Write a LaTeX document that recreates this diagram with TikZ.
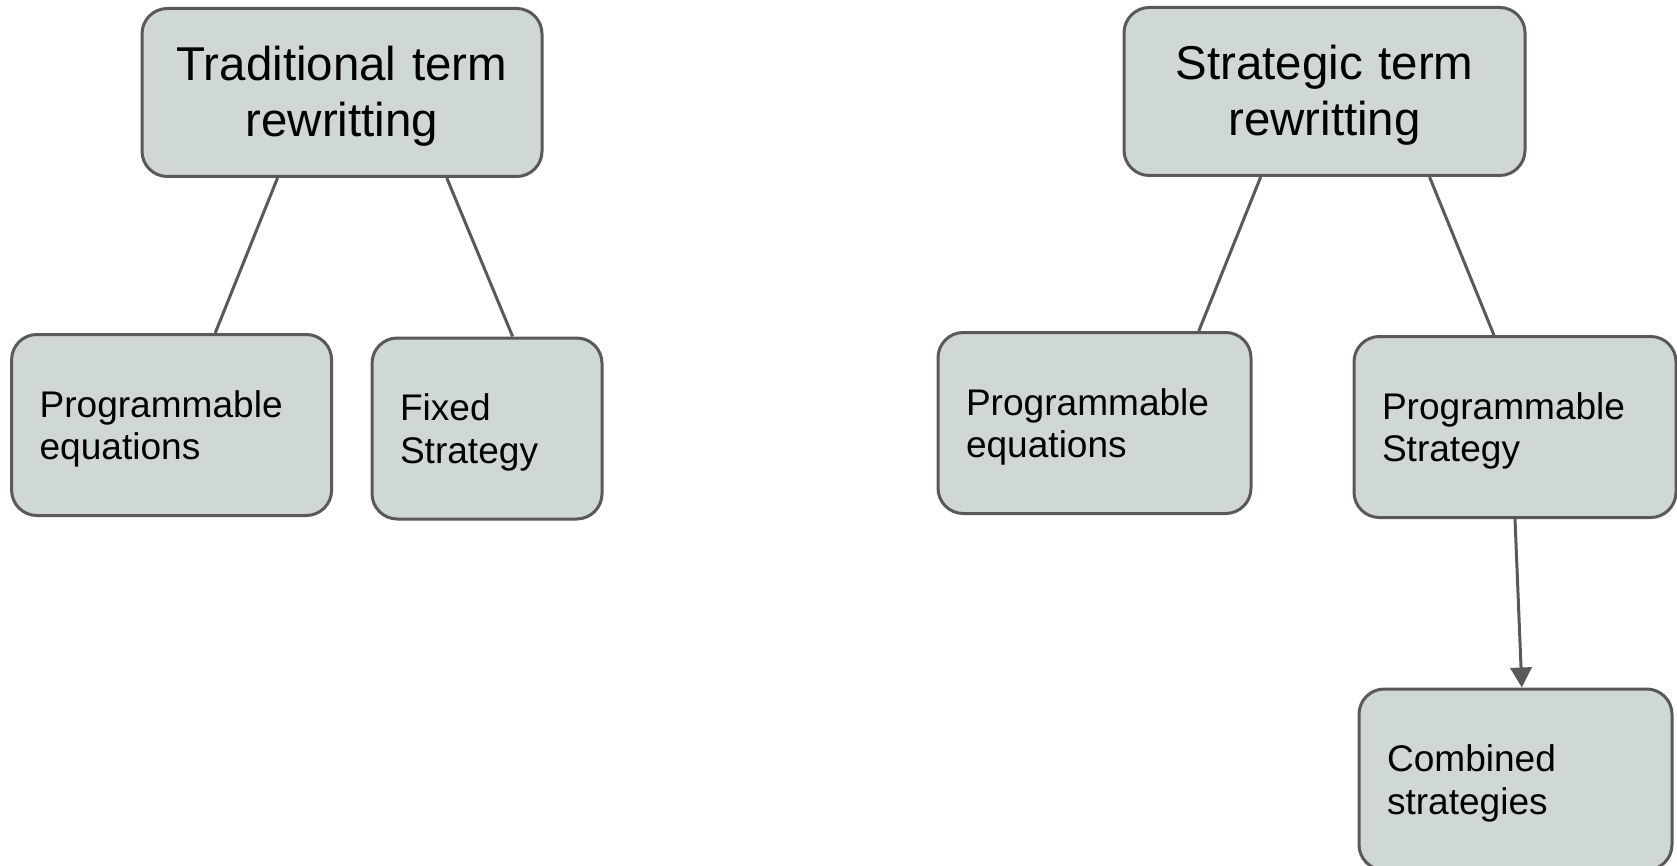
\documentclass[tikz,border=0pt]{standalone}
\usepackage{fontspec}
\setmainfont{Liberation Sans}
\usetikzlibrary{arrows.meta,calc}
\definecolor{boxFill}{HTML}{D0D7D7}
\definecolor{edgeGray}{HTML}{595959}

\begin{document}
\begin{tikzpicture}[x=0.75pt,y=-0.75pt,>={Triangle[length=15pt,width=16pt]},
  topbox/.style={draw=edgeGray,fill=boxFill,line width=2.25pt,rounded corners=19pt,align=center,
    inner xsep=0pt,inner ysep=0pt,font=\fontsize{35.6pt}{41.5pt}\selectfont,minimum height=126pt,
    execute at begin node={\rule{0pt}{31.6pt}}},
  leafbox/.style={draw=edgeGray,fill=boxFill,line width=2.25pt,rounded corners=19pt,align=left,
    inner xsep=21pt,inner ysep=0pt,font=\fontsize{27.8pt}{32pt}\selectfont,minimum height=135.75pt,
    execute at begin node={\rule{0pt}{25.8pt}}},
  link/.style={draw=edgeGray,line width=2.25pt}]
  \useasboundingbox (0,0) rectangle (1677,866);
  % left tree
  \node[topbox,text width=300pt] (trad) at (342,92.5) {Traditional term\\rewritting};
  \node[leafbox,text width=198pt] (eqA) at (171.6,425) {Programmable\\equations};
  \node[leafbox,text width=130.5pt] (fixed) at (487,428.5) {Fixed\\Strategy};
  % right tree
  \node[topbox,text width=300.75pt] (strat) at (1324.5,91.5) {Strategic term\\rewritting};
  \node[leafbox,text width=192.75pt] (eqB) at (1094.5,423) {Programmable\\equations};
  \node[leafbox,text width=199.5pt] (prog) at (1515,427) {Programmable\\Strategy};
  \node[leafbox,text width=192.75pt] (comb) at (1515.5,779.5) {Combined\\strategies};
  \draw[link] ($(trad.south west)!0.34!(trad.south east)$) -- ($(eqA.north west)!0.635!(eqA.north east)$);
  \draw[link] ($(trad.south west)!0.76!(trad.south east)$) -- ($(fixed.north west)!0.61!(fixed.north east)$);
  \draw[link] ($(strat.south west)!0.342!(strat.south east)$) -- ($(eqB.north west)!0.83!(eqB.north east)$);
  \draw[link] ($(strat.south west)!0.76!(strat.south east)$) -- ($(prog.north west)!0.435!(prog.north east)$);
  \draw[link,->] ($(prog.south west)!0.5!(prog.south east)$) -- ($(comb.north west)!0.52!(comb.north east)$);
\end{tikzpicture}
\end{document}
